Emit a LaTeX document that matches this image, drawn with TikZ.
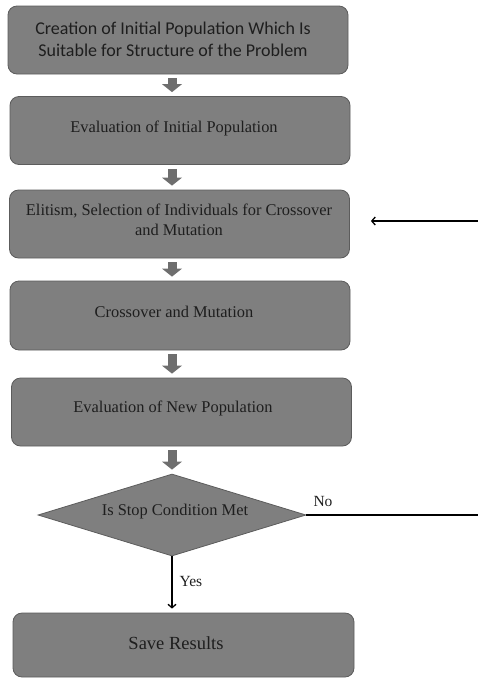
\documentclass[tikz,border=0pt]{standalone}
\usepackage{fontspec}
\setmainfont{Liberation Serif}
\newfontfamily\calibfont{Carlito}
\usetikzlibrary{arrows.meta,shapes.geometric,calc}
\definecolor{boxfill}{HTML}{7F7F7F}
\definecolor{boxline}{HTML}{5C5C5C}
\definecolor{arrfill}{HTML}{6E6E6E}
\definecolor{txtcol}{HTML}{1E1E1E}
\begin{document}
\begin{tikzpicture}[x=1pt,y=-1pt,
  box/.style={draw=boxline, fill=boxfill, line width=0.8pt, rounded corners=9pt,
    minimum width=340pt, minimum height=68pt, inner sep=0pt},
  decision/.style={diamond, draw=boxline, fill=boxfill, line width=0.8pt,
    minimum width=268pt, minimum height=82pt, inner sep=0pt},
  txt/.style={text=txtcol, font=\fontsize{16.4}{20}\selectfont, align=center, inner sep=0pt},
  blockarr/.style={draw=arrfill, line width=9pt,
    -{Triangle[length=8pt,width=20pt,line width=0pt,fill=arrfill]},
    shorten <=4pt, shorten >=4pt},
  thinarr/.style={draw=black, line width=1.3pt, -{Straight Barb[length=3.5pt,width=8pt]}},
  plainline/.style={draw=black, line width=1.3pt}
]
\useasboundingbox (0,0) rectangle (478,678);

% boxes
\node[box] (b1) at (178,40) {};
\node[box] (b2) at (180,130.5) {};
\node[box] (b3) at (179.5,224) {};
\node[box, minimum height=69pt] (b4) at (180,315.5) {};
\node[box] (b5) at (181.5,412) {};
\node[decision] (d) at (172,515) {};
\node[box, minimum width=341pt, minimum height=64pt] (b6) at (183.5,645) {};

% texts
\node[txt, font=\calibfont\fontsize{18}{22}\selectfont] (t1) at (173,39)
  {Creation of Initial Population Which Is\\Suitable for Structure of the Problem};
\node[txt] (t2) at (174,128) {Evaluation of Initial Population};
\node[txt] (t3) at (179,220) {Elitism, Selection of Individuals for Crossover\\and Mutation};
\node[txt] (t4) at (174,312) {Crossover and Mutation};
\node[txt] (t5) at (173,408) {Evaluation of New Population};
\node[txt] (t6) at (175,512) {Is Stop Condition Met};
\node[txt, font=\fontsize{18.5}{22}\selectfont] (t7) at (176,643) {Save Results};

% block arrows
\draw[blockarr] (b1.south -| d.north) -- (b2.north -| d.north);
\draw[blockarr] (b2.south -| d.north) -- (b3.north -| d.north);
\draw[blockarr] (b3.south -| d.north) -- (b4.north -| d.north);
\draw[blockarr] (b4.south -| d.north) -- (b5.north -| d.north);
\draw[blockarr] (b5.south -| d.north) -- (d.north);

% yes / no
\draw[thinarr, shorten >=4pt] (d.south) -- (b6.north -| d.south)
  node[pos=0.45, right=7pt, txt, font=\fontsize{15.5}{18}\selectfont] (yes) {Yes};
\coordinate (r2) at (478,515);
\draw[plainline] (d.east) -- (r2);
\node[txt, font=\fontsize{15.5}{18}\selectfont] (no) at (323,501) {No};

% feedback arrow end
\coordinate (r1) at (478,221);
\draw[thinarr, shorten >=21pt] (r1) -- (r1 -| b3.east);
\end{tikzpicture}
\end{document}
